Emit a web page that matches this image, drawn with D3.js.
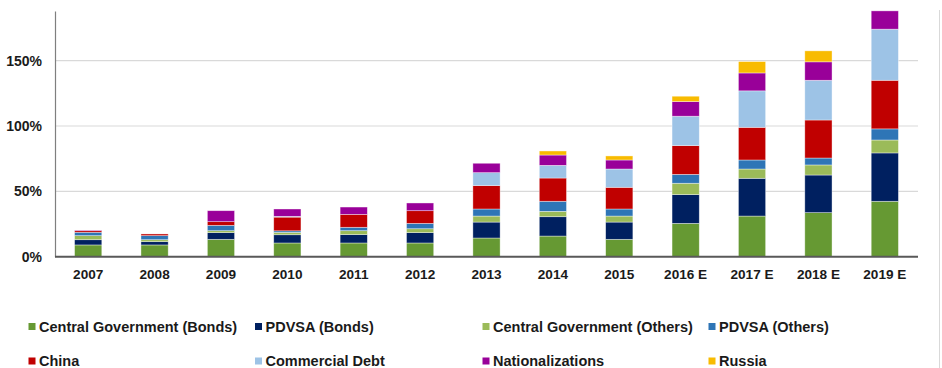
<!DOCTYPE html>
<html>
<head>
<meta charset="utf-8">
<script src="https://cdn.jsdelivr.net/npm/d3@7/dist/d3.min.js"></script>
<style>
  html, body { margin: 0; padding: 0; background: #fff; }
  svg { display: block; font-family: "Liberation Sans", Arial, sans-serif; }
</style>
</head>
<body>
<svg id="chart" width="942" height="368"></svg>
<script>
// Years on the x axis
const years = ["2007", "2008", "2009", "2010", "2011", "2012", "2013", "2014", "2015",
               "2016 E", "2017 E", "2018 E", "2019 E"];

// Debt components, % (stacked bottom to top)
const centralGovBonds = [9.0, 9.0, 13.3, 10.5, 10.5, 10.5, 14.3, 15.8, 13.3, 25.5, 31.1, 33.7, 42.4];
const pdvsaBonds      = [4.0, 2.5, 5.1, 6.3, 6.4, 7.9, 12.2, 14.8, 13.2, 22.0, 28.9, 28.8, 37.0];
const centralGovOther = [3.1, 1.5, 1.5, 1.8, 3.0, 3.0, 4.6, 4.1, 4.6, 8.7, 7.1, 7.7, 9.9];
const pdvsaOther      = [2.6, 3.1, 4.1, 1.2, 2.6, 4.1, 5.4, 7.7, 5.4, 6.8, 6.9, 5.3, 8.5];
const china           = [1.2, 1.3, 2.8, 10.5, 9.9, 9.7, 17.9, 17.8, 16.6, 22.0, 25.0, 29.1, 37.2];
const commercialDebt  = [0.0, 0.0, 0.0, 0.6, 0.0, 0.0, 9.9, 9.7, 14.0, 22.5, 27.9, 30.4, 39.1];
const nationalizations= [0.5, 0.0, 8.4, 5.6, 5.6, 5.9, 7.2, 7.9, 6.9, 11.2, 13.7, 14.1, 14.0];
const russia          = [0.0, 0.0, 0.0, 0.0, 0.0, 0.0, 0.0, 3.1, 3.1, 4.1, 8.7, 8.4, 0.0];

const seriesNames = ["Central Government (Bonds)", "PDVSA (Bonds)", "Central Government (Others)",
                     "PDVSA (Others)", "China", "Commercial Debt", "Nationalizations", "Russia"];
const seriesValues = [centralGovBonds, pdvsaBonds, centralGovOther, pdvsaOther,
                      china, commercialDebt, nationalizations, russia];
const seriesColors = ["#669933", "#002060", "#9bbb59", "#2e75b6",
                      "#c00000", "#9dc3e6", "#990099", "#f8bb00"];

const yTicks = [0, 50, 100, 150];
const yMax = 188;

// Row-per-year table for d3.stack
const table = years.map((yr, i) => {
  const row = { year: yr };
  seriesNames.forEach((s, k) => { row[s] = seriesValues[k][i]; });
  return row;
});

const svg = d3.select("#chart");
const plotLeft = 55, plotRight = 918, plotTop = 11, plotBottom = 256.7;

const x = d3.scaleBand().domain(years).range([plotLeft, plotRight]).paddingInner(0.59).paddingOuter(0.295);
const y = d3.scaleLinear().domain([0, yMax]).range([plotBottom, plotTop]);

// Frame line on the right edge
svg.append("line")
  .attr("x1", 939.5).attr("x2", 939.5).attr("y1", 10).attr("y2", 368)
  .attr("stroke", "#d9d9d9").attr("stroke-width", 1);

// Horizontal gridlines
svg.append("g").selectAll("line")
  .data(yTicks.filter(t => t > 0))
  .join("line")
  .attr("x1", plotLeft).attr("x2", plotRight)
  .attr("y1", d => y(d)).attr("y2", d => y(d))
  .attr("stroke", "#d9d9d9").attr("stroke-width", 1.2);

// Stacked bars
const stacked = d3.stack().keys(seriesNames)(table);
svg.append("g").selectAll("g")
  .data(stacked)
  .join("g")
  .attr("fill", (d, i) => seriesColors[i])
  .selectAll("rect")
  .data(d => d.filter(p => p[1] - p[0] > 0))
  .join("rect")
  .attr("x", d => x(d.data.year))
  .attr("width", x.bandwidth())
  .attr("y", d => y(d[1]))
  .attr("height", d => y(d[0]) - y(d[1]))
  .attr("stroke", "rgba(255,255,255,0.55)")
  .attr("stroke-width", 0.7);

// Y axis
const yAxis = d3.axisLeft(y).tickValues(yTicks).tickFormat(d => d + "%").tickSize(0).tickPadding(13);
const gy = svg.append("g").attr("transform", `translate(${plotLeft},0)`).call(yAxis);
gy.select(".domain").attr("stroke", "#7f7f7f").attr("stroke-width", 1.2);
gy.selectAll("text")
  .attr("font-size", 14).attr("font-weight", "bold").attr("fill", "#1a1a1a")
  .attr("font-family", "'Liberation Sans', Arial, sans-serif");

// X axis
const xAxis = d3.axisBottom(x).tickSize(0).tickPadding(13);
const gx = svg.append("g").attr("transform", `translate(0,${plotBottom})`).call(xAxis);
gx.select(".domain").remove();
gx.append("line").attr("x1", plotLeft).attr("x2", plotRight).attr("y1", 0).attr("y2", 0)
  .attr("stroke", "#595959").attr("stroke-width", 2);
gx.selectAll("text")
  .attr("font-size", 13.6).attr("font-weight", "bold").attr("fill", "#1a1a1a")
  .attr("font-family", "'Liberation Sans', Arial, sans-serif");

// Legend, two rows of four
const legendCols = [28.5, 255, 482.5, 708.5];
const legendRows = [326.5, 361];
const legend = svg.append("g").selectAll("g")
  .data(seriesNames)
  .join("g")
  .attr("transform", (d, i) => `translate(${legendCols[i % 4]},${legendRows[Math.floor(i / 4)]})`);
legend.append("rect")
  .attr("x", 0).attr("y", -3.5).attr("width", 7).attr("height", 7)
  .attr("fill", (d, i) => seriesColors[i]);
legend.append("text")
  .attr("x", 10.5).attr("y", 0).attr("dy", "0.35em")
  .attr("font-size", 14.5).attr("font-weight", "bold").attr("fill", "#1a1a1a")
  .text(d => d);
</script>
</body>
</html>
